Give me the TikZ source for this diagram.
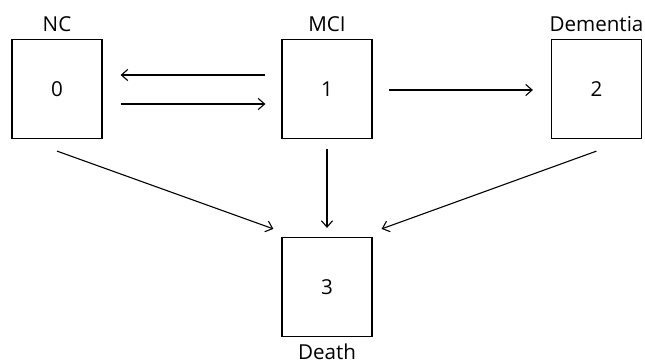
\documentclass[tikz,border=0pt]{standalone}
\usepackage{fontspec}
\setmainfont{Open Sans}
\usetikzlibrary{arrows.meta}

\begin{document}
\begin{tikzpicture}[x=0.5pt,y=-0.5pt,
    every node/.style={font=\fontsize{10.3pt}{12pt}\selectfont},
    state/.style={draw,line width=0.6pt,minimum width=45pt,minimum height=49.5pt,inner sep=0pt},
    arr/.style={line width=0.55pt,-{Straight Barb[length=3.2pt,width=5.6pt]}}]
  \useasboundingbox (0,0) rectangle (645,360);

  \node (nc) [state,label=above:NC] at (57,89) {0};
  \node (mci) [state,label=above:MCI] at (327,89) {1};
  \node (dem) [state,label=above:Dementia] at (596.5,89) {2};
  \node (death) [state,label=below:Death] at (327,287) {3};

  \draw[arr,shorten <=8pt,shorten >=9pt] ([yshift=7pt]mci.west) -- ([yshift=7pt]nc.east);
  \draw[arr,shorten <=9pt,shorten >=8pt] ([yshift=-7.5pt]nc.east) -- ([yshift=-7.5pt]mci.west);
  \draw[arr,shorten <=8pt,shorten >=9pt] ([yshift=-0.5pt]mci.east) -- ([yshift=-0.5pt]dem.west);
  \draw[arr,shorten <=5pt,shorten >=4.5pt] (mci.south) -- (death.north);
  \draw[arr] ([yshift=-6pt]nc.south) -- ([shift={(-4pt,4pt)}]death.north west);
  \draw[arr] ([yshift=-6pt]dem.south) -- ([shift={(4.5pt,4pt)}]death.north east);
\end{tikzpicture}
\end{document}
